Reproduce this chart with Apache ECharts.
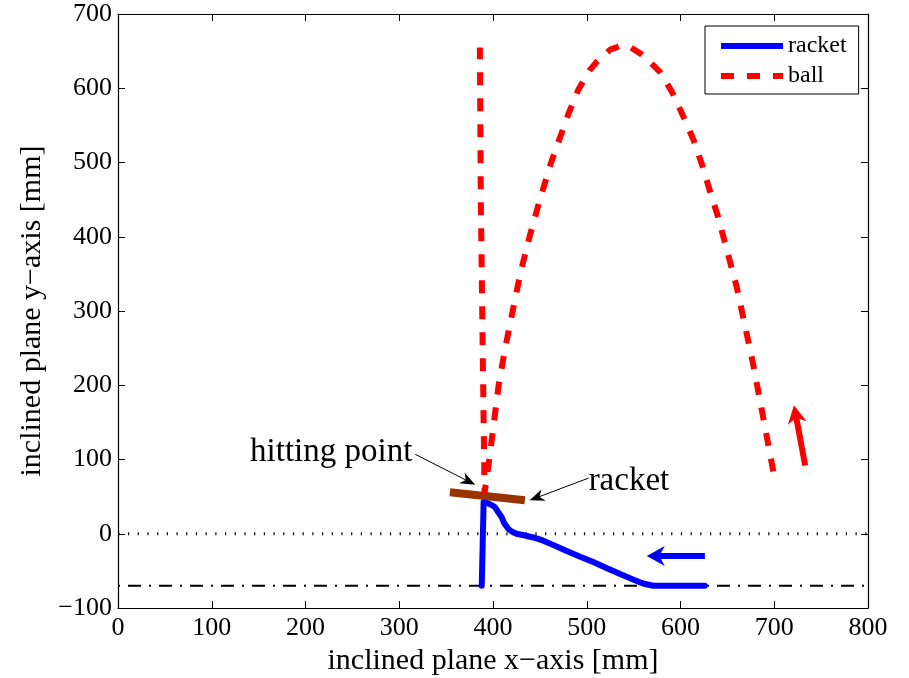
<!DOCTYPE html>
<html>
<head>
<meta charset="utf-8">
<script src="https://cdn.jsdelivr.net/npm/echarts@6/dist/echarts.min.js"></script>
<style>
  html, body { margin: 0; padding: 0; background: #fff; }
  #chart { width: 909px; height: 678px; }
</style>
</head>
<body>
<div id="chart"></div>
<script>
// Axis ticks (mm)
const xTicks = [0, 100, 200, 300, 400, 500, 600, 700, 800];
const yTicks = [-100, 0, 100, 200, 300, 400, 500, 600, 700];

// Racket trajectory on the inclined plane (mm)
const racketX = [626, 571, 560, 550, 535, 521, 507, 493, 478, 464, 453, 443, 433, 425,
                 420, 416, 412, 409, 405, 402, 398, 395, 390, 388];
const racketY = [-70, -70, -67, -62, -54, -46, -38, -31, -23, -15, -9, -5, -2, 0,
                 3, 7, 14, 23, 30, 36, 39, 41, 43, -70];

// Ball trajectory on the inclined plane (mm)
const ballX = [699, 688, 678, 668, 660, 650, 640, 631, 623, 614, 603, 591, 578, 566, 557, 547, 538,
               525, 511, 503, 491, 480, 471, 462, 450, 439, 429, 421, 413, 406, 401, 396, 391,
               389, 387, 386];
const ballY = [84, 158, 225, 285, 332, 380, 427, 463, 497, 530, 562, 595, 622, 637, 647, 655, 658,
               652, 636, 624, 598, 564, 532, 500, 450, 400, 350, 300, 250, 200, 150, 100, 55,
               250, 450, 655];

// Racket pose at the moment of impact
const racketPoseX = [354, 434];
const racketPoseY = [56, 45];

// Reference levels: plane origin and racket rest line
const zeroLevel = 0;
const restLevel = -70;

// Motion arrows [fromX, fromY, toX, toY]
const racketMotion = [626, -30, 564, -30];
const ballMotion = [733, 92, 721, 173];

// Annotation callouts: text, text anchor, arrow start, arrow tip
const calloutText = ['hitting point', 'racket'];
const calloutAnchorX = [314, 502];
const calloutAnchorY = [109, 70];
const calloutFromX = [317, 502];
const calloutFromY = [107, 75];
const calloutToX = [381, 439];
const calloutToY = [66, 45];

const FONT = "'Liberation Serif', 'Times New Roman', Times, serif";
const minus = v => String(v).replace('-', '\u2212');
const zip = (xs, ys) => xs.map((x, i) => [x, ys[i]]);

const xMin = xTicks[0], xMax = xTicks[xTicks.length - 1];
const yMin = yTicks[0], yMax = yTicks[yTicks.length - 1];
const xStep = xTicks[1] - xTicks[0];
const yStep = yTicks[1] - yTicks[0];

// Arrowhead outline: tip at top centre, notched back
const HEAD_PATH = 'path://M5,0 L10,10 L5,7 L0,10 Z';

const chart = echarts.init(document.getElementById('chart'), null, { renderer: 'canvas' });

const axisLine = { show: true, onZero: false, lineStyle: { color: '#000', width: 1.2 } };
const axisTick = { show: true, inside: true, length: 7, lineStyle: { color: '#000', width: 1 } };

const option = {
  animation: false,
  backgroundColor: '#fff',
  grid: { left: 118, top: 14, right: 41, bottom: 70, containLabel: false, outerBoundsMode: 'none' },
  legend: {
    data: ['racket', 'ball'],
    orient: 'vertical',
    left: 705,
    top: 26,
    padding: [8, 12, 6, 13],
    itemWidth: 62,
    itemHeight: 10,
    itemGap: 6,
    selectedMode: false,
    backgroundColor: '#fff',
    borderColor: '#000',
    borderWidth: 1,
    borderRadius: 0,
    itemStyle: { opacity: 0 },
    lineStyle: { width: 6, cap: 'butt' },
    textStyle: { fontFamily: FONT, fontSize: 24, color: '#000', lineHeight: 23 }
  },
  xAxis: [
    {
      type: 'value', min: xMin, max: xMax, interval: xStep,
      name: 'inclined plane x\u2212axis [mm]', nameLocation: 'middle', nameGap: 33,
      nameTextStyle: { fontFamily: FONT, fontSize: 30, color: '#000' },
      axisLine: axisLine, axisTick: axisTick, splitLine: { show: false },
      axisLabel: { fontFamily: FONT, fontSize: 26, color: '#000', margin: 7, formatter: minus }
    },
    {
      type: 'value', position: 'top', min: xMin, max: xMax, interval: xStep,
      axisLine: axisLine, axisTick: axisTick, splitLine: { show: false },
      axisLabel: { show: false }
    }
  ],
  yAxis: [
    {
      type: 'value', min: yMin, max: yMax, interval: yStep,
      name: 'inclined plane y\u2212axis [mm]', nameLocation: 'middle', nameGap: 58,
      nameTextStyle: { fontFamily: FONT, fontSize: 30, color: '#000' },
      axisLine: axisLine, axisTick: axisTick, splitLine: { show: false },
      axisLabel: { fontFamily: FONT, fontSize: 26, color: '#000', margin: 6, formatter: minus }
    },
    {
      type: 'value', position: 'right', min: yMin, max: yMax, interval: yStep,
      axisLine: axisLine, axisTick: axisTick, splitLine: { show: false },
      axisLabel: { show: false }
    }
  ],
  series: [
    {
      name: 'zero level', type: 'line', silent: true, symbol: 'none', z: 1,
      data: [[xMin, zeroLevel], [xMax, zeroLevel]],
      lineStyle: { color: '#000', width: 3, type: [1.2, 8.5], dashOffset: -10 }
    },
    {
      name: 'rest level', type: 'line', silent: true, symbol: 'none', z: 1,
      data: [[xMin, restLevel], [xMax, restLevel]],
      lineStyle: { color: '#000', width: 2, type: [13, 8, 2, 8], dashOffset: -10 }
    },
    {
      name: 'racket', type: 'line', silent: true, symbol: 'none', showSymbol: false, z: 3,
      data: zip(racketX, racketY),
      color: '#0000ff',
      lineStyle: { color: '#0000ff', width: 6, cap: 'round', join: 'round' }
    },
    {
      name: 'racket pose', type: 'line', silent: true, symbol: 'none', z: 4,
      data: zip(racketPoseX, racketPoseY),
      lineStyle: { color: '#993300', width: 8 }
    },
    {
      name: 'ball', type: 'line', silent: true, symbol: 'none', showSymbol: false, z: 5,
      data: zip(ballX, ballY),
      color: '#ff0000',
      lineStyle: { color: '#ff0000', width: 6, type: [13, 13], cap: 'butt' }
    },
    {
      name: 'callouts', type: 'scatter', silent: true, symbolSize: 0, z: 6,
      itemStyle: { opacity: 1 },
      data: calloutText.map((t, i) => ({
        value: [calloutAnchorX[i], calloutAnchorY[i]],
        label: {
          show: true,
          position: i === 0 ? 'left' : 'right',
          distance: 0,
          formatter: t,
          opacity: 1,
          fontFamily: FONT, fontSize: 33, color: '#000'
        }
      }))
    }
  ]
};

chart.setOption(option);

// Arrows: shaft as a short line, head as a rotated symbol placed at the tip
const arrowSpecs = [
  { from: [racketMotion[0], racketMotion[1]], to: [racketMotion[2], racketMotion[3]], color: '#0000ff', width: 6, head: [20, 18] },
  { from: [ballMotion[0], ballMotion[1]], to: [ballMotion[2], ballMotion[3]], color: '#ff0000', width: 6, head: [19, 18] }
].concat(calloutText.map((t, i) => ({
  from: [calloutFromX[i], calloutFromY[i]], to: [calloutToX[i], calloutToY[i]], color: '#000', width: 1, head: [12, 15]
})));

const finder = { seriesIndex: 2 };
const shaftSeries = [];
const heads = [];
arrowSpecs.forEach((a, i) => {
  const p0 = chart.convertToPixel(finder, a.from);
  const p1 = chart.convertToPixel(finder, a.to);
  const dx = p1[0] - p0[0], dy = p1[1] - p0[1];
  const len = Math.hypot(dx, dy);
  const ux = dx / len, uy = dy / len;
  const h = a.head[1];
  const centre = chart.convertFromPixel(finder, [p1[0] - ux * h / 2, p1[1] - uy * h / 2]);
  const neck = chart.convertFromPixel(finder, [p1[0] - ux * h * 0.6, p1[1] - uy * h * 0.6]);
  const rotate = -Math.atan2(ux, -uy) * 180 / Math.PI;
  shaftSeries.push({
    name: 'arrow shaft ' + i, type: 'line', silent: true, symbol: 'none', z: 7,
    data: [a.from, neck],
    lineStyle: { color: a.color, width: a.width, cap: 'butt' }
  });
  heads.push({
    value: centre,
    symbolRotate: rotate,
    symbolSize: a.head,
    itemStyle: { color: a.color, opacity: 1 }
  });
});

chart.setOption({
  series: option.series.concat(shaftSeries, [{
    name: 'arrow heads', type: 'scatter', silent: true, z: 8,
    symbol: HEAD_PATH, symbolKeepAspect: false,
    data: heads
  }])
});
</script>
</body>
</html>
